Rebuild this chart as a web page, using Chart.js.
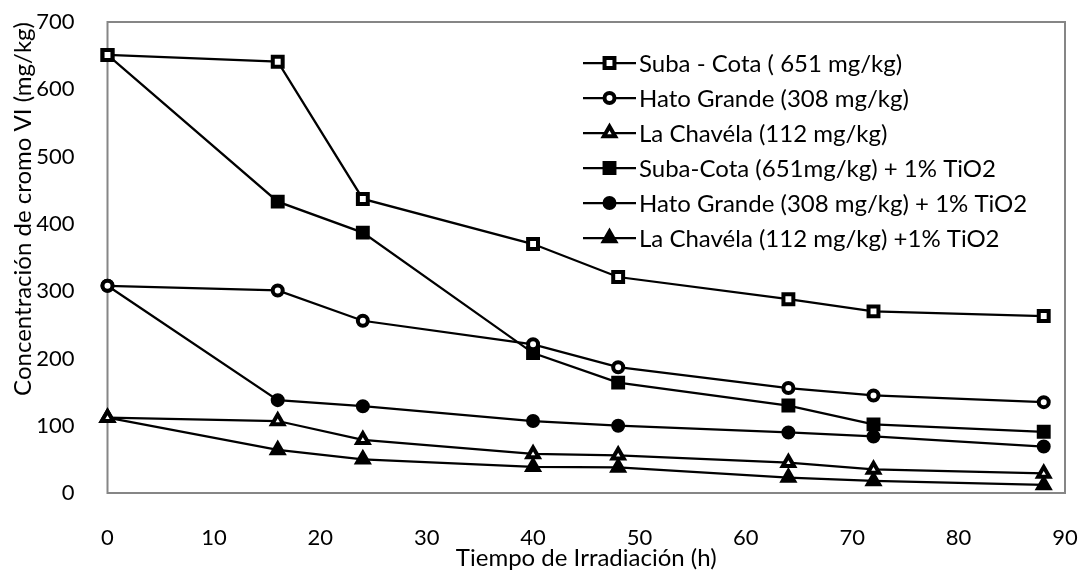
<!DOCTYPE html>
<html>
<head>
<meta charset="utf-8">
<script src="https://cdn.jsdelivr.net/npm/chart.js@4.4.1/dist/chart.umd.min.js"></script>
<style>
  html, body { margin: 0; background: #fff; }
  #wrap { width: 1087px; height: 573px; }
</style>
</head>
<body>
<div id="wrap"><canvas id="grafico"></canvas></div>
<script>
// ===== Datos =====
const tiempos = [0, 16, 24, 40, 48, 64, 72, 88];
const subaCota = [651, 641, 437, 370, 321, 288, 270, 263];
const hatoGrande = [308, 301, 256, 221, 187, 156, 145, 135];
const laChavela = [112, 107, 79, 58, 56, 45, 35, 29];
const subaCotaTiO2 = [651, 433, 387, 208, 164, 130, 102, 91];
const hatoGrandeTiO2 = [308, 138, 129, 107, 100, 90, 84, 69];
const laChavelaTiO2 = [112, 64, 50, 39, 38, 23, 18, 12];
const nombres = [
  'Suba - Cota ( 651 mg/kg)',
  'Hato Grande (308 mg/kg)',
  'La Chavéla (112 mg/kg)',
  'Suba-Cota (651mg/kg) + 1% TiO2',
  'Hato Grande (308 mg/kg) + 1% TiO2',
  'La Chavéla (112 mg/kg) +1% TiO2'
];

const FONT = "Lato, 'Open Sans', sans-serif";
const FS = 24;
const NEGRO = '#000', GRIS = '#868686';

const pts = vals => vals.map((v, i) => ({ x: tiempos[i], y: v }));
const estilos = [
  { s: 'rect', r: 7, fill: '#fff' },
  { s: 'circle', r: 5, fill: '#fff' },
  { s: 'triangle', r: 6.5, fill: '#fff' },
  { s: 'rect', r: 7, fill: NEGRO },
  { s: 'circle', r: 5, fill: NEGRO },
  { s: 'triangle', r: 6.5, fill: NEGRO }
];
const series = [subaCota, hatoGrande, laChavela, subaCotaTiO2, hatoGrandeTiO2, laChavelaTiO2];

const datasets = series.map((vals, i) => ({
  label: nombres[i],
  data: pts(vals),
  borderColor: NEGRO,
  borderWidth: 2.25,
  pointStyle: estilos[i].s,
  pointRadius: estilos[i].r,
  pointBorderWidth: 4,
  pointBorderColor: NEGRO,
  pointBackgroundColor: estilos[i].fill,
  tension: 0,
  clip: false
}));

// ===== Borde del área de trazado y leyenda tipo Excel =====
const marco = {
  id: 'marco',
  beforeDatasetsDraw(chart) {
    const { ctx, chartArea: a } = chart;
    ctx.save();
    ctx.strokeStyle = GRIS; ctx.lineWidth = 2;
    ctx.strokeRect(a.left, a.top, a.right - a.left, a.bottom - a.top);
    ctx.restore();
  }
};
const leyenda = {
  id: 'leyenda',
  afterDraw(chart) {
    const ctx = chart.ctx;
    const x0 = 583, x1 = 636, y0 = 63, paso = 35;
    ctx.save();
    chart.data.datasets.forEach((ds, i) => {
      const y = y0 + i * paso;
      ctx.strokeStyle = NEGRO; ctx.lineWidth = ds.borderWidth;
      ctx.beginPath(); ctx.moveTo(x0, y); ctx.lineTo(x1, y); ctx.stroke();
      ctx.fillStyle = ds.pointBackgroundColor; ctx.lineWidth = ds.pointBorderWidth;
      Chart.helpers.drawPoint(ctx, { pointStyle: ds.pointStyle, radius: ds.pointRadius, borderWidth: ds.pointBorderWidth, rotation: 0 }, (x0 + x1) / 2, y);
      ctx.fillStyle = NEGRO; ctx.font = `${FS}px ${FONT}`;
      ctx.textAlign = 'left'; ctx.textBaseline = 'middle';
      ctx.fillText(ds.label, x1 + 3, y + 1);
    });
    ctx.restore();
  }
};

Chart.defaults.font.family = FONT;
Chart.defaults.font.size = FS;
Chart.defaults.color = NEGRO;

new Chart(document.getElementById('grafico'), {
  type: 'line',
  data: { datasets },
  options: {
    responsive: true,
    maintainAspectRatio: false,
    animation: false,
    layout: { padding: { top: 22, right: 22, left: 0, bottom: 0 } },
    plugins: { legend: { display: false }, tooltip: { enabled: false } },
    scales: {
      x: {
        type: 'linear', min: 0, max: 90,
        ticks: { stepSize: 10, padding: 24, font: { size: 22 } },
        grid: { display: false }, border: { display: false },
        title: { display: true, text: 'Tiempo de Irradiación (h)', padding: { top: 2, bottom: 0 } },
        afterFit: s => { s.height = 80; s.paddingLeft = 0; s.paddingRight = 0; }
      },
      y: {
        min: 0, max: 700,
        ticks: { stepSize: 100, padding: 25, font: { size: 22 } },
        grid: { display: false }, border: { display: false },
        title: { display: true, align: 'end', text: 'Concentración de cromo VI (mg/kg)', padding: { top: 9, bottom: 0 } },
        afterFit: s => { s.width = 107.5; s.paddingTop = 0; s.paddingBottom = 0; }
      }
    }
  },
  plugins: [marco, leyenda]
});
</script>
</body>
</html>
